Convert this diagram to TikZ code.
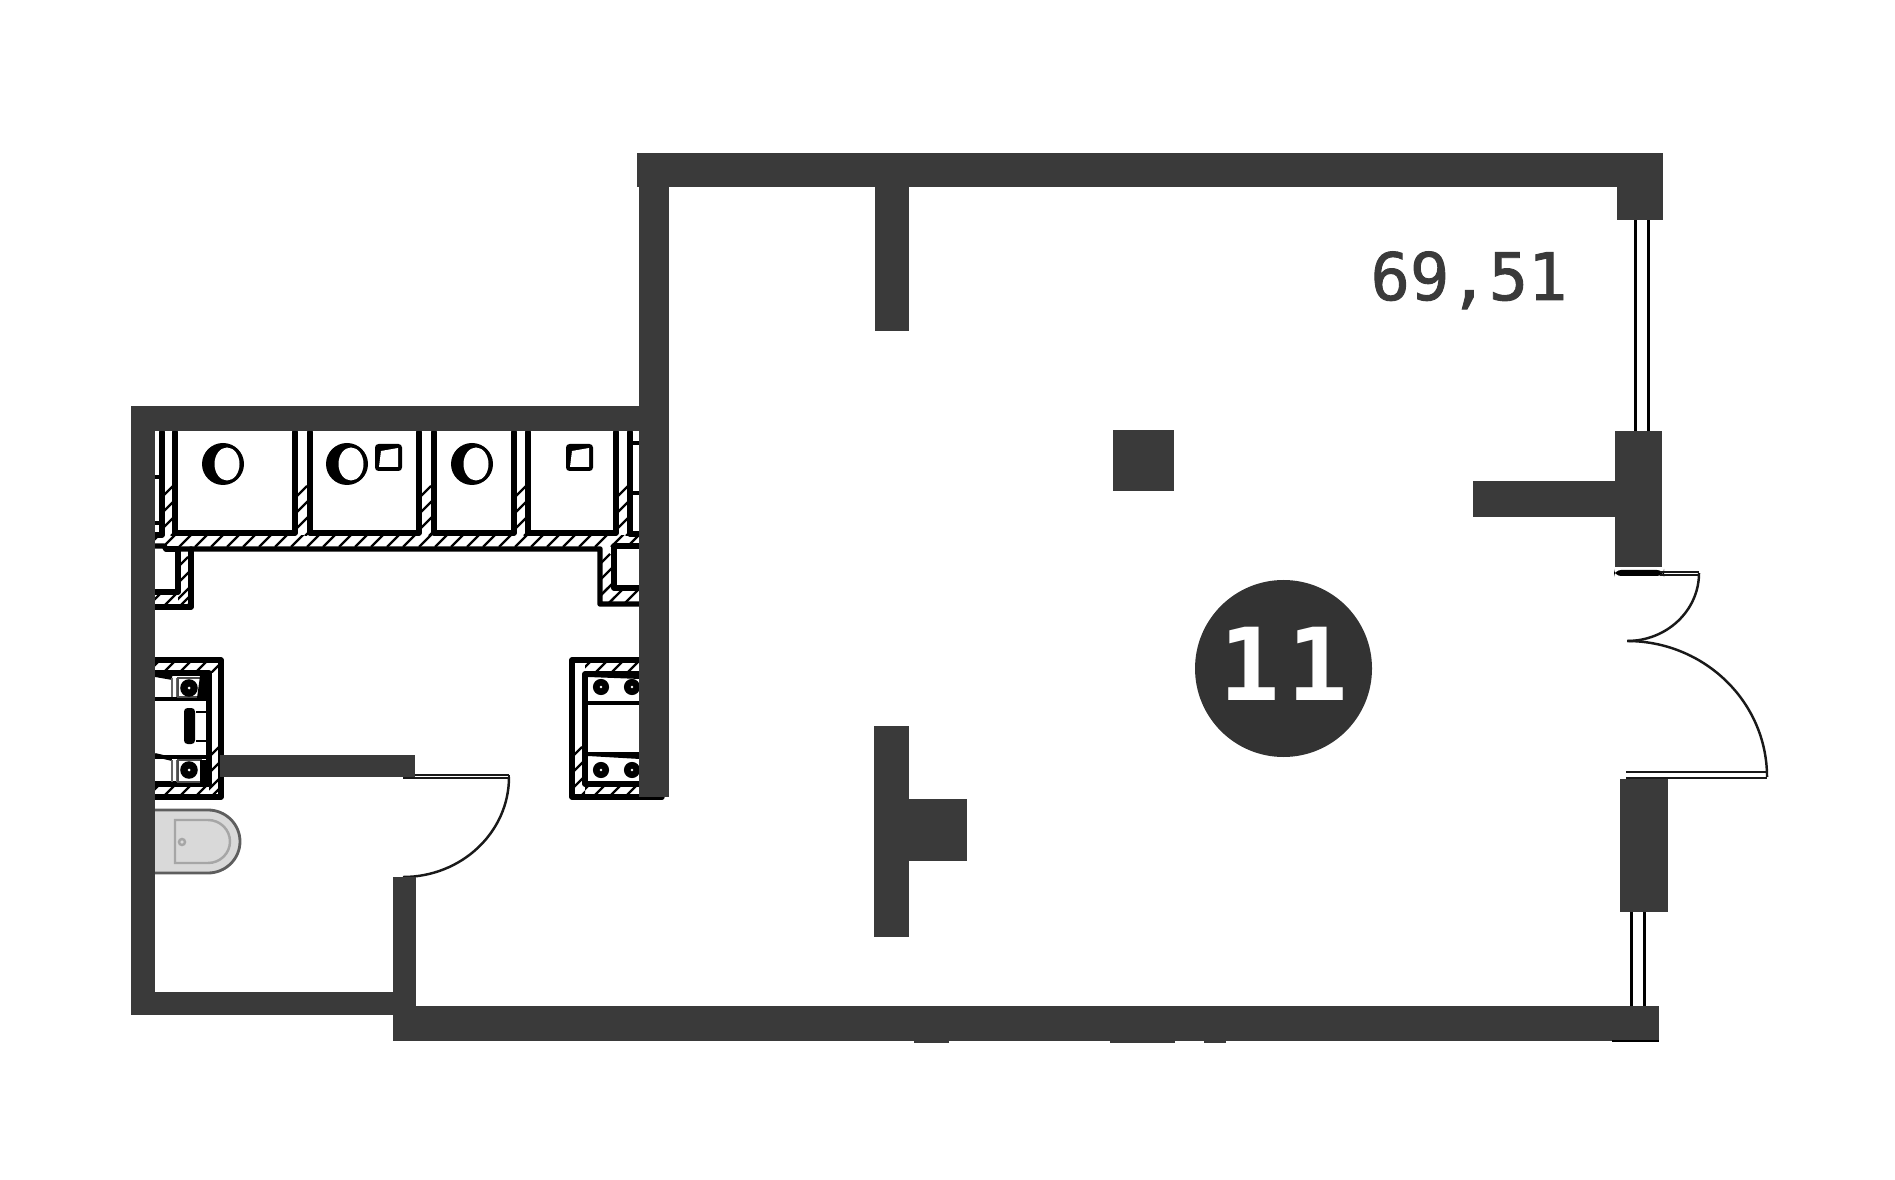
\documentclass[tikz,border=0pt]{standalone}
\usepackage{fontspec}
\newfontfamily\areafont[FakeBold=1.4]{DejaVu Sans Mono}
\newfontfamily\badgefont[LetterSpace=7]{DejaVu Sans Mono Bold}
\definecolor{walldark}{HTML}{3A3A3A}
\definecolor{badgedark}{HTML}{333333}
\definecolor{bowlfill}{HTML}{D9D9D9}
\definecolor{bowlline}{HTML}{5E5E5E}
\definecolor{bowlinner}{HTML}{A6A6A6}
% hatching of a strip: x1, y1, x2, y2
\newcommand{\hatchstrip}[4]{
    \begin{scope}
        \clip (#1, #2) rectangle (#3, #4);
        \foreach \hi in {0, ..., 32}
            \draw[hatchline] ({#1 - 40 + \hi * 16}, #4) -- ++(50, -50);
    \end{scope}
}
\begin{document}
\begin{tikzpicture}
        [
            x=0.01cm,
            y=-0.01cm,
            wall/.style={fill=walldark},
            tile/.style={draw=black, line width=1.55pt, line join=round, line cap=round},
            thinwall/.style={draw=black, line width=1.1pt, line join=round},
            hatchline/.style={draw=black, line width=0.65pt},
            swing/.style={draw=black!90, line width=0.7pt},
            glazing/.style={draw=black, line width=0.85pt},
            bolt/.style={circle, fill=black, inner sep=0pt, minimum size=5pt},
            boltsmall/.style={circle, fill=black, inner sep=0pt, minimum size=4.6pt}
        ]
        \useasboundingbox (0, 0) rectangle (1895, 1180);

        % hatching first, walls go over it
        \hatchstrip{155}{536}{640}{547}
        \hatchstrip{163}{432}{173}{536}
        \hatchstrip{297}{432}{308}{536}
        \hatchstrip{421}{432}{432}{536}
        \hatchstrip{516}{432}{527}{536}
        \hatchstrip{618}{432}{629}{536}
        \hatchstrip{178}{548}{193}{607}
        \hatchstrip{155}{592}{193}{607}
        \hatchstrip{600}{548}{614}{604}
        \hatchstrip{600}{588}{640}{604}
        \hatchstrip{155}{660}{221}{673}
        \hatchstrip{155}{785}{221}{797}
        \hatchstrip{209}{660}{221}{797}
        \hatchstrip{572}{660}{585}{797}
        \hatchstrip{585}{660}{640}{675}
        \hatchstrip{585}{785}{640}{797}

        % stalls along the top
        \draw[tile] (175, 432) -- (175, 533) -- (295, 533) -- (295, 432);
        \draw[tile] (310, 432) -- (310, 533) -- (419, 533) -- (419, 432);
        \draw[tile] (434, 432) -- (434, 533) -- (514, 533) -- (514, 432);
        \draw[tile] (528, 432) -- (528, 533) -- (616, 533) -- (616, 432);
        \draw[tile] (162, 432) -- (162, 535) -- (155, 535);
        \draw[thinwall] (155, 477) -- (161, 477) (155, 523) -- (161, 523);
        \draw[tile] (630, 432) -- (630, 534) -- (640, 534);
        \draw[thinwall] (630, 443) -- (640, 443) (630, 493) -- (640, 493);

        % nooks under the stalls
        \draw[tile] (155, 546) -- (164, 546) -- (166, 549) -- (600, 549) -- (600, 604) -- (640, 604);
        \draw[tile] (166, 549) -- (178, 549) -- (178, 592) -- (155, 592);
        \draw[tile] (191, 549) -- (191, 607) -- (155, 607);
        \draw[tile] (640, 546) -- (614, 546) -- (614, 588) -- (640, 588);

        % left cabinet
        \draw[tile] (155, 660) -- (221, 660) -- (221, 797) -- (155, 797);
        \draw[tile] (155, 673) -- (209, 673) -- (209, 784) -- (155, 784);
        \draw[thinwall] (155, 699) -- (210, 699) (155, 757) -- (210, 757);
        \draw[thinwall] (155, 675) -- (172, 678) (155, 755) -- (172, 759);
        \draw[draw=black!60, line width=0.4pt] (172, 678) -- (172, 697) (177, 678) -- (177, 697)
            (172, 760) -- (172, 782) (177, 760) -- (177, 782);
        \draw[draw=black!70, line width=0.4pt] (178, 678) rectangle (201, 697) (178, 760) rectangle (201, 782);
        \fill[black] (200, 676) -- (209, 676) -- (209, 699) -- (197, 698) -- cycle;
        \fill[black] (200, 760) -- (209, 760) -- (209, 784) -- (200, 784) -- cycle;
        \node[bolt] (bolttl) at (189, 688) {};
        \node[bolt] (boltbl) at (189, 770) {};
        \fill[white] (bolttl) circle (1.5);
        \fill[white] (boltbl) circle (1.5);
        \fill[black, rounded corners=1pt] (184, 708) rectangle (195, 744);
        \draw[thinwall, line width=0.5pt] (196, 712) -- (207, 712) (196, 741) -- (207, 741);

        % right cabinet
        \draw[tile] (640, 660) -- (572, 660) -- (572, 797) -- (662, 797);
        \draw[tile] (640, 674) -- (585, 674) -- (585, 784) -- (640, 784);
        \draw[thinwall] (588, 703) -- (640, 703);
        \fill[black] (588, 752) -- (640, 752) -- (640, 759) -- (588, 756) -- cycle;
        \fill[black] (588, 677) -- (640, 677) -- (640, 679) -- (588, 677) -- cycle;
        \node[boltsmall] (bolttr) at (601, 687) {};
        \node[boltsmall] (bolttq) at (632, 687) {};
        \node[boltsmall] (boltbr) at (601, 770) {};
        \node[boltsmall] (boltbq) at (632, 770) {};
        \foreach \b in {bolttr, bolttq, boltbr, boltbq}
            \fill[white] (\b) circle (1.3);

        % bowls and basins of the stalls
        \foreach \bx in {223, 347, 472} {
            \fill[black] (\bx, 464) ellipse (21 and 21);
            \fill[white] (\bx + 4, 464) ellipse (12.5 and 16.5);
        }
        \foreach \sx in {375, 566} {
            \fill[black, rounded corners=1pt] (\sx, 444) rectangle (\sx + 27, 471);
            \fill[white] (\sx + 6, 451) -- (\sx + 23, 448) -- (\sx + 23, 467) -- (\sx + 4, 467) -- cycle;
        }

        % bowl on the left wall
        \draw[fill=bowlfill, draw=bowlline, line width=0.8pt] (155, 810) -- (208, 810) arc (-90:90:32 and 31.5) -- (155, 873);
        \draw[draw=bowlinner, line width=0.7pt] (175, 820) -- (208, 820) arc (-90:90:22 and 21.5) -- (175, 863) -- cycle;
        \draw[draw=bowlinner, fill=bowlfill, line width=0.7pt] (182, 842) circle (3);

        % windows
        \draw[glazing] (1635, 220) -- (1635, 431) (1648, 220) -- (1648, 431);
        \draw[glazing] (1631, 912) -- (1631, 1006) (1644, 912) -- (1644, 1006);

        % doors
        \draw[swing] (403, 775) -- (509, 775) (403, 778) -- (509, 778) (509, 775) -- (509, 778);
        \draw[swing] (509, 777) arc (0:90:106 and 100);
        \fill[black, rounded corners=2pt] (1614, 570) rectangle (1664, 576);
        \draw[swing] (1660, 572) -- (1699, 572) (1660, 575) -- (1699, 575);
        \draw[swing] (1699, 573) arc (0:90:72 and 68);
        \draw[swing] (1627, 641) arc (-90:0:140 and 136);
        \draw[swing] (1626, 772) -- (1766, 772) (1626, 778) -- (1767, 778);

        % walls
        \fill[wall] (637, 153) rectangle (1663, 187);
        \fill[wall] (1617, 187) rectangle (1663, 220);
        \fill[wall] (639, 153) rectangle (669, 797);
        \fill[wall] (875, 187) rectangle (909, 331);
        \fill[wall] (1113, 430) rectangle (1174, 491);
        \fill[wall] (1615, 431) rectangle (1662, 567);
        \fill[wall] (1473, 481) rectangle (1615, 517);
        \fill[wall] (1620, 779) rectangle (1668, 912);
        \fill[wall] (393, 1006) rectangle (1659, 1041);
        \fill[wall] (914, 1041) rectangle (949, 1043);
        \fill[wall] (1110, 1041) rectangle (1175, 1043);
        \fill[wall] (1204, 1041) rectangle (1226, 1043);
        \fill[black] (1612, 1040) rectangle (1659, 1042);
        \fill[wall] (874, 726) rectangle (909, 937);
        \fill[wall] (909, 799) rectangle (967, 861);
        \fill[wall] (131, 406) rectangle (155, 1015);
        \fill[wall] (131, 406) rectangle (640, 431);
        \fill[wall] (131, 992) rectangle (393, 1015);
        \fill[wall] (393, 877) rectangle (416, 1006);
        \fill[wall] (220, 755) rectangle (415, 777);

        % labels
        \node[anchor=base, text=walldark, inner sep=0pt, font=\areafont\fontsize{18.6}{20}\selectfont] (area) at (1469, 300) {69,51};
        \node[circle, fill=badgedark, minimum size=177*0.01cm, inner sep=0pt] (badge) at (1283.5, 668.5) {};
        \node[anchor=base, text=white, inner sep=0pt, font=\badgefont\fontsize{28.6}{30}\selectfont] (badgenum) at (1284, 701) {11};
    \end{tikzpicture}
\end{document}
